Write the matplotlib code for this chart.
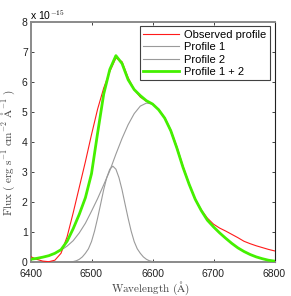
import matplotlib
matplotlib.use("Agg")
import matplotlib.pyplot as plt

wavelength = list(range(6400, 6801, 10))

observed = [0.19, 0.10, 0.04, 0.02, 0.07, 0.30, 0.85, 1.65, 2.50, 3.35,
            4.25, 5.10, 5.80, 6.35, 6.80, 6.68, 6.15, 5.75, 5.50, 5.36,
            5.28, 5.08, 4.82, 4.40, 3.85, 3.20, 2.62, 2.10, 1.75, 1.47,
            1.27, 1.14, 1.04, 0.93, 0.82, 0.70, 0.62, 0.55, 0.49, 0.43, 0.38]

profile1 = [0.10, 0.13, 0.17, 0.22, 0.30, 0.40, 0.54, 0.72, 0.98, 1.30,
            1.70, 2.12, 2.58, 3.05, 3.60, 4.12, 4.58, 4.95, 5.20, 5.30,
            5.27, 5.10, 4.80, 4.35, 3.78, 3.15, 2.60, 2.10, 1.72, 1.40,
            1.18, 0.98, 0.80, 0.63, 0.48, 0.36, 0.26, 0.18, 0.12, 0.07, 0.04]

profile1_2 = [0.10, 0.13, 0.17, 0.22, 0.30, 0.42, 0.70, 1.12, 1.60, 2.15,
              2.95, 4.30, 5.60, 6.42, 6.88, 6.62, 6.08, 5.75, 5.55, 5.38,
              5.27, 5.08, 4.80, 4.38, 3.80, 3.16, 2.60, 2.10, 1.72, 1.40,
              1.18, 0.98, 0.80, 0.63, 0.48, 0.36, 0.26, 0.18, 0.12, 0.07, 0.04]

wavelength_p2 = list(range(6440, 6631, 5))
profile2 = [0.0, 0.0, 0.0, 0.005, 0.01, 0.015, 0.025, 0.05, 0.10, 0.18,
            0.30, 0.45, 0.69, 1.04, 1.47, 1.94, 2.42, 2.82, 3.10, 3.20,
            3.10, 2.82, 2.42, 1.94, 1.47, 1.04, 0.69, 0.45, 0.30, 0.18,
            0.10, 0.05, 0.025, 0.012, 0.005, 0.0, 0.0, 0.0, 0.0]

xticks = [6400, 6500, 6600, 6700, 6800]
yticks = [0, 1, 2, 3, 4, 5, 6, 7, 8]

plt.rcParams['mathtext.fontset'] = 'cm'
plt.rcParams['font.family'] = ['Liberation Sans', 'DejaVu Sans']

fig = plt.figure(figsize=(2.91, 2.96), dpi=100)
ax = fig.add_axes([30.5/291, 1-262.3/296, 244/291, 240.3/296])

ax.plot(wavelength, observed, color='#ff1a1a', lw=0.8, label='Observed profile', zorder=3)
ax.plot(wavelength, profile1, color='#9a9a9a', lw=0.8, label='Profile 1', zorder=2)
ax.plot(wavelength_p2, profile2, color='#9a9a9a', lw=0.8, label='Profile 2', zorder=2)
ax.plot(wavelength, profile1_2, color='#44f000', lw=2.0, label='Profile 1 + 2', zorder=4)

ax.set_xlim(6400, 6800)
ax.set_ylim(0, 8)
ax.set_xticks(xticks)
ax.set_yticks(yticks)
ax.tick_params(axis='both', direction='in', length=2.5, width=0.6, labelsize=7.5,
               top=True, right=True, colors='#222222')
ax.tick_params(axis='y', pad=2)
ax.tick_params(axis='x', pad=5)

for side in ['left', 'bottom', 'top']:
    ax.spines[side].set_color('#8a8a8a')
    ax.spines[side].set_linewidth(1.4)
ax.spines['right'].set_color('#222222')
ax.spines['right'].set_linewidth(0.8)

ax.set_xlabel(r'$\mathrm{Wavelength\ (\AA)}$', fontsize=8, color='#444444')
ax.xaxis.set_label_coords(0.49, -0.074)
ax.set_ylabel(r'$\mathrm{Flux\ (\ erg\ s^{-1}\ cm^{-2}\ \AA^{-1}\ )}$', fontsize=8,
              color='#444444')
ax.yaxis.set_label_coords(-0.057, 0.455)

fig.text(30/291, 1-15/296, r'x 10$^{-15}$', fontsize=7.5, ha='left', va='center')

leg = ax.legend(loc='upper right', fontsize=8, frameon=True, fancybox=False,
                edgecolor='#111111', borderpad=0.3, labelspacing=0.22,
                handlelength=3.2, handletextpad=0.5, borderaxespad=0.4)
leg.get_frame().set_linewidth(0.8)

fig.savefig('out.png', dpi=100)
